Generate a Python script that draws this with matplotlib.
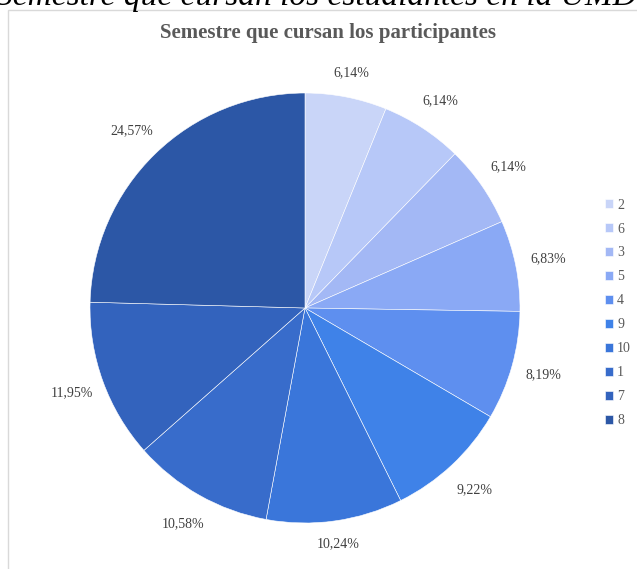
import numpy as np
import matplotlib
matplotlib.use("Agg")
import matplotlib.pyplot as plt
from matplotlib.patches import Rectangle

# Share of participants by semester (percent)
semesters = ["2", "6", "3", "5", "4", "9", "10", "1", "7", "8"]
shares = [6.14, 6.14, 6.14, 6.83, 8.19, 9.22, 10.24, 10.58, 11.95, 24.57]
colors = ["#C9D5F8", "#B7C8F8", "#A3B8F5", "#8AA9F5", "#5E8FEF",
          "#3F82E8", "#3A76DA", "#386CCB", "#3363BD", "#2C57A6"]

title = "Semestre que cursan los participantes"
caption = "Semestre que cursan los estudiantes en la UMD"

W, H = 637, 569
fig = plt.figure(figsize=(W / 100, H / 100), dpi=100)
fig.patch.set_facecolor("white")

serif = ["Liberation Serif", "DejaVu Serif"]

# Caption line above the chart frame (partially outside the canvas)
fig.text(316 / W, 1 - 5 / H, caption, ha="center", va="baseline",
         fontsize=24, style="italic", family=serif, color="black")

# Chart frame
fig.add_artist(Rectangle((8 / W, -0.05), 1.0, 1 - 10 / H + 0.05,
                         transform=fig.transFigure, fill=False,
                         edgecolor="#D9D9D9", linewidth=1.0))

fig.text(328 / W, 1 - 33 / H, title, ha="center", va="center",
         fontsize=15, fontweight="bold", family=serif, color="#595959")

cx, cy, r = 305, 308, 215
ax = fig.add_axes([(cx - r) / W, (H - cy - r) / H, 2 * r / W, 2 * r / H])

wedges, _ = ax.pie(
    shares, colors=colors, startangle=90, counterclock=False, radius=1.0,
    wedgeprops=dict(edgecolor="white", linewidth=0.4))
ax.set_xlim(-1, 1)
ax.set_ylim(-1, 1)
ax.set_aspect("equal")
ax.axis("off")

# Outside-end data labels: labels near the top/bottom sit a bit closer to the rim
for w, v in zip(wedges, shares):
    ang = np.deg2rad((w.theta1 + w.theta2) / 2)
    c, s = np.cos(ang), np.sin(ang)
    dist = (r + 19 + 14 * min(1.0, 2 * abs(c))) / r
    ax.text(dist * c, dist * s, f"{v:.2f}".replace(".", ",") + "%",
            ha="center", va="center", family=serif, fontsize=10,
            color="#404040", clip_on=False)

leg = fig.legend(wedges, semesters, loc="upper left",
                 bbox_to_anchor=(599 / W, 1 - 193 / H), frameon=False,
                 handlelength=0.6, handleheight=0.6, handletextpad=0.3,
                 labelspacing=0.79, borderaxespad=0,
                 prop=dict(family=serif, size=10))
for t in leg.get_texts():
    t.set_color("#595959")

fig.savefig("out.png", dpi=100, facecolor="white")
